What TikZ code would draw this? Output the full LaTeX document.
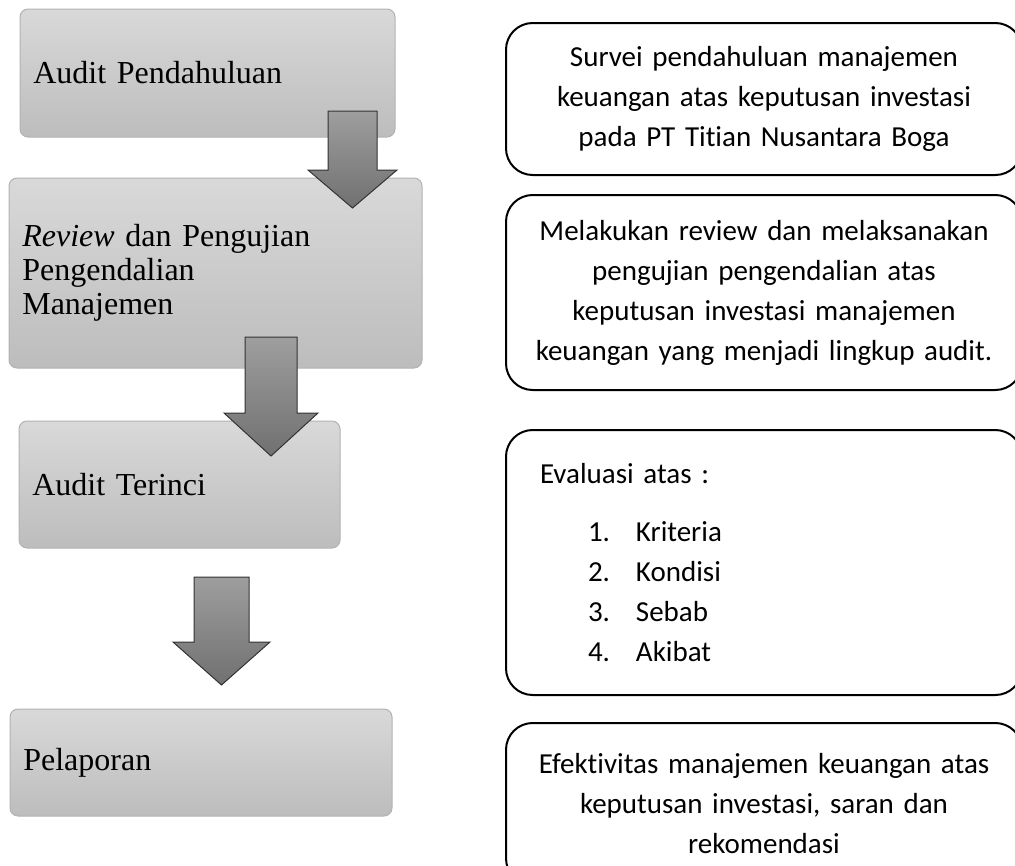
\documentclass[tikz,border=0pt]{standalone}
\usepackage{fontspec}
\setmainfont{Liberation Serif}
\newfontfamily\carlito[Ligatures=NoCommon]{Carlito}
\usetikzlibrary{positioning, calc}
\tikzset{
    stagebox/.style = {rectangle, rounded corners=6pt, draw=black!30, line width=0.75pt, top color=black!15, bottom color=black!26, inner xsep=10pt, align=left, font=\fontsize{24}{25.5}\selectfont},
    notebox/.style = {rectangle, rounded corners=20pt, draw=black, line width=1.5pt, fill=white, minimum width=387pt, text width=356pt, align=center, font=\carlito\fontsize{21.75}{30}\selectfont},
    blockarrow/.style = {draw=black!80, line width=0.75pt, top color=black!38, bottom color=black!56}
}

\begin{document}
\begin{tikzpicture}[x=0.75pt, y=-0.75pt]
\useasboundingbox (0,0) rectangle (1015,865);

% ---- stages (left) ----
\node[stagebox, text width=261.25pt, minimum height=96pt] (pendahuluan) at (207.5,73) {Audit Pendahuluan};
\node[stagebox, text width=289.75pt, minimum height=142.5pt] (review) at (215.5,273) {\textit{Review} dan Pengujian\\Pengendalian\\Manajemen};
\node[stagebox, text width=220.75pt, minimum height=95.25pt] (terinci) at (179.5,484.5) {Audit Terinci};
\node[stagebox, text width=266.5pt, minimum height=80.25pt] (pelaporan) at (201,762.5) {Pelaporan};

% ---- block arrows ----
\draw[blockarrow] (328,111) -- (377,111) -- (377,170) -- (397,170) -- (352.5,208) -- (308,170) -- (328,170) -- cycle;
\draw[blockarrow] (245,337) -- (297,337) -- (297,413) -- (318,413) -- (271,456) -- (224,413) -- (245,413) -- cycle;
\draw[blockarrow] (194,577) -- (249,577) -- (249,642) -- (270,642) -- (221.5,685) -- (173,642) -- (194,642) -- cycle;

% ---- notes (right) ----
\node[notebox, minimum height=114pt] (survei) at (764,99) {Survei pendahuluan manajemen\\keuangan atas keputusan investasi\\pada PT Titian Nusantara Boga};
\node[notebox, minimum height=146.25pt] (pengujian) at (764,292.5) {Melakukan review dan melaksanakan\\pengujian pengendalian atas\\keputusan investasi manajemen\\keuangan yang menjadi lingkup audit.};
\node[notebox, minimum height=198.75pt, text width=336pt, align=left] (evaluasi) at (764,562.5) {Evaluasi atas :\\[13.5pt]
  \hspace*{36pt}\makebox[36pt][l]{1.}Kriteria\\
  \hspace*{36pt}\makebox[36pt][l]{2.}Kondisi\\
  \hspace*{36pt}\makebox[36pt][l]{3.}Sebab\\
  \hspace*{36pt}\makebox[36pt][l]{4.}Akibat};
\node[notebox, minimum height=121.5pt] (efektivitas) at (764,804) {Efektivitas manajemen keuangan atas\\keputusan investasi, saran dan\\rekomendasi};

\end{tikzpicture}
\end{document}
